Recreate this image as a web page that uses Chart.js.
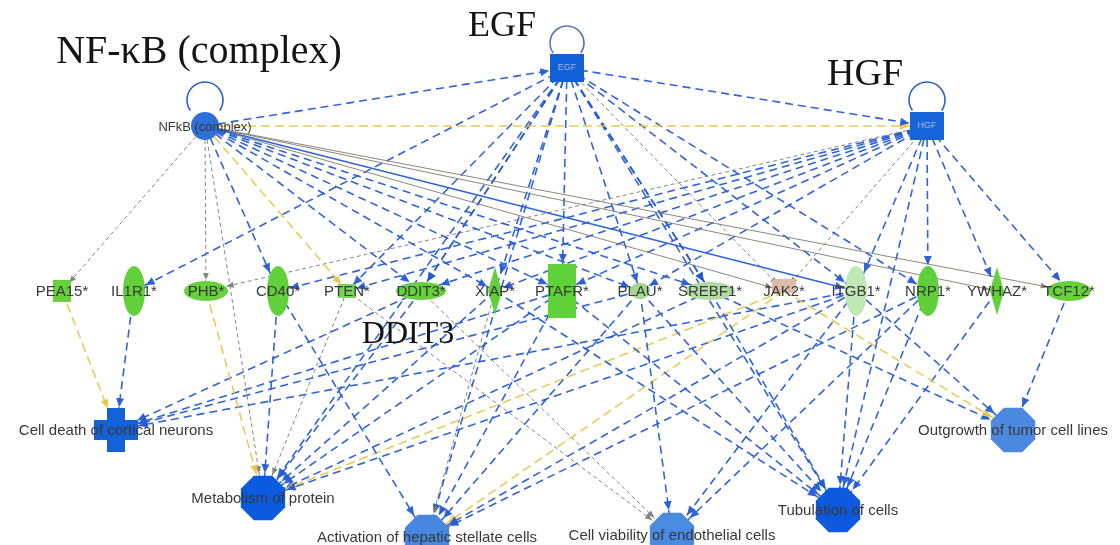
<!DOCTYPE html>
<html>
<head>
  <title>IPA network with Chart.js</title>
  <script src="https://cdn.jsdelivr.net/npm/chart.js"></script>
  <style>
    body { margin: 0; background: #fff; }
  </style>
</head>
<body>
  <canvas id="myChart" width="1120" height="545"></canvas>
  <script>
    // nodes of the network (x/y in picture units, y goes down)
    var nodeNames = ['NFkB (complex)', 'EGF', 'HGF',
      'PEA15*', 'IL1R1*', 'PHB*', 'CD40*', 'PTEN*', 'DDIT3*', 'XIAP*', 'PTAFR*', 'PLAU*',
      'SREBF1*', 'JAK2*', 'ITGB1*', 'NRP1*', 'YWHAZ*', 'TCF12*',
      'Cell death of cortical neurons', 'Metabolism of protein', 'Activation of hepatic stellate cells',
      'Cell viability of endothelial cells', 'Tubulation of cells', 'Outgrowth of tumor cell lines'];
    var nodeX = [205, 567, 927,
      62, 134, 206, 278, 347, 421, 495, 562, 640, 710, 784, 856, 928, 997, 1069,
      116, 263, 427, 672, 838, 1013];
    var nodeY = [126, 68, 126,
      291, 291, 291, 291, 291, 291, 291, 291, 291, 291, 291, 291, 291, 291, 291,
      430, 498, 537, 535, 510, 430];

    // edges: source index, target index, kind
    var edgeFrom = [0, 0, 1, 0, 0, 0, 0, 0, 0, 0, 0, 0, 0, 0, 0, 0, 0,
      1, 1, 1, 1, 1, 1, 1, 1, 1, 1, 1, 1, 1, 1, 1,
      2, 2, 2, 2, 2, 2, 2, 2, 2, 2, 2, 2, 2,
      3, 4, 5, 6, 6, 7, 7, 8, 8, 8, 9, 9, 9, 10, 10, 10, 10, 11, 11, 11, 11,
      12, 12, 12, 13, 13, 13, 14, 14, 14, 14, 14, 14, 15, 15, 15, 16, 17];
    var edgeTo = [1, 2, 2, 3, 5, 6, 7, 19, 8, 9, 10, 11, 12, 14, 13, 16, 17,
      4, 7, 8, 8, 9, 10, 11, 12, 12, 13, 14, 15, 19, 22, 20,
      5, 6, 7, 8, 9, 10, 11, 13, 14, 15, 16, 22, 17,
      18, 18, 19, 19, 20, 19, 21, 18, 19, 21, 20, 19, 22, 18, 19, 22, 20, 18, 20, 21, 22,
      19, 23, 22, 19, 20, 23, 18, 19, 20, 21, 22, 23, 22, 21, 20, 22, 23];
    var edgeKind = ['b', 'y', 'b', 'g', 'g', 'b', 'y', 'g', 'b', 'b', 'b', 'b', 'b', 's', 'k', 'k', 'k',
      'b', 'b', 'b', 'b', 'b', 'b', 'b', 'b', 'b', 'g', 'b', 'b', 'b', 'b', 'b',
      'g', 'b', 'b', 'b', 'b', 'b', 'b', 'g', 'b', 'b', 'b', 'b', 'b',
      'y', 'b', 'y', 'b', 'b', 'g', 'g', 'b', 'b', 'g', 'g', 'b', 'b', 'b', 'b', 'b', 'b', 'b', 'b', 'b', 'b',
      'b', 'b', 'b', 'y', 'y', 'y', 'b', 'b', 'b', 'b', 'b', 'b', 'b', 'b', 'b', 'b', 'b'];

    var selfLoops = [0, 1, 2];

    // large annotation labels
    var bigLabels = ['NF-\u03baB (complex)', 'EGF', 'HGF', 'DDIT3'];
    var bigLabelX = [199, 502, 865, 408];
    var bigLabelY = [63, 36, 85, 343];
    var bigLabelSize = [40, 36, 38, 32];

    // ---- styles ----
    var nodeShape = ['circle', 'square', 'square',
      'smallbox', 'vellipse', 'hellipse', 'vellipse', 'tinybox', 'wellipse', 'diamond', 'tallrect', 'smallellipse',
      'wellipse', 'kinase', 'vellipse', 'vellipse', 'diamond', 'hellipse',
      'cross', 'octagon', 'octagon', 'octagon', 'octagon', 'octagon'];
    var nodeFill = ['#2f6fd8', '#1160d8', '#1565d8',
      '#66d13a', '#62d03a', '#66d13a', '#62d03a', '#7ad45a', '#66d13a', '#62d03a', '#5fd23a', '#a3d88e',
      '#b2dba4', '#dbbcaa', '#bfe8b4', '#5fd03a', '#62d03a', '#66d13a',
      '#1462d8', '#0b5be0', '#4787e0', '#4a8be2', '#0d5ade', '#4a89df'];
    var shapeSize = {
      circle: [14, 14], square: [17, 14], smallbox: [9, 11], vellipse: [11, 25], hellipse: [22, 10],
      tinybox: [9, 7], wellipse: [25, 9], diamond: [7, 24], tallrect: [14, 27], smallellipse: [10, 8],
      kinase: [12, 7], cross: [22, 22], octagon: [24, 24]
    };
    var lineStyles = {
      b: { color: 'rgba(38, 92, 214, 0.95)', width: 1.6, dash: [8, 5] },
      y: { color: 'rgba(232, 196, 70, 0.9)', width: 1.6, dash: [9, 5] },
      g: { color: 'rgba(120, 120, 120, 0.9)', width: 1, dash: [4, 3] },
      s: { color: 'rgba(38, 92, 214, 0.95)', width: 1.6, dash: [] },
      k: { color: 'rgba(130, 120, 110, 0.9)', width: 1, dash: [] }
    };

    function reach(i, dx, dy) {
      var s = shapeSize[nodeShape[i]];
      var len = Math.sqrt(dx * dx + dy * dy) || 1;
      var c = dx / len, sn = dy / len;
      return 1 / Math.sqrt((c / s[0]) * (c / s[0]) + (sn / s[1]) * (sn / s[1])) + 1;
    }

    function drawShape(ctx, kind, x, y, fill) {
      var s = shapeSize[kind];
      ctx.fillStyle = fill;
      ctx.beginPath();
      if (kind === 'circle' || kind.indexOf('ellipse') >= 0) {
        ctx.ellipse(x, y, s[0], s[1], 0, 0, Math.PI * 2);
      } else if (kind === 'diamond') {
        ctx.moveTo(x, y - s[1]); ctx.lineTo(x + s[0], y); ctx.lineTo(x, y + s[1]); ctx.lineTo(x - s[0], y);
      } else if (kind === 'cross') {
        var t = 9;
        ctx.rect(x - t, y - s[1], 2 * t, 2 * s[1]);
        ctx.rect(x - s[0], y - 10, 2 * s[0], 20);
      } else if (kind === 'octagon') {
        for (var k = 0; k < 8; k++) {
          var a = Math.PI / 8 + k * Math.PI / 4;
          var px = x + s[0] * Math.cos(a), py = y + s[1] * Math.sin(a);
          if (k === 0) ctx.moveTo(px, py); else ctx.lineTo(px, py);
        }
      } else if (kind === 'kinase') {
        ctx.roundRect(x - s[0], y - s[1] - 5, 2 * s[0], 2 * s[1], 3);
      } else {
        ctx.rect(x - s[0], y - s[1], 2 * s[0], 2 * s[1]);
      }
      ctx.closePath();
      ctx.fill();
    }

    var networkPlugin = {
      id: 'network',
      afterDatasetsDraw: function(chart) {
        var ctx = chart.ctx;
        var xs = chart.scales.x, ys = chart.scales.y;
        ctx.save();

        // arrow heads
        edgeFrom.forEach(function(f, i) {
          var t = edgeTo[i];
          var x0 = xs.getPixelForValue(nodeX[f]), y0 = ys.getPixelForValue(nodeY[f]);
          var x1 = xs.getPixelForValue(nodeX[t]), y1 = ys.getPixelForValue(nodeY[t]);
          var dx = x1 - x0, dy = y1 - y0, len = Math.sqrt(dx * dx + dy * dy);
          var ux = dx / len, uy = dy / len;
          var r = reach(t, -dx, -dy);
          var tx = x1 - ux * r, ty = y1 - uy * r;
          var st = lineStyles[edgeKind[i]];
          var al = st.width > 1.2 ? 9 : 7, aw = st.width > 1.2 ? 4 : 3;
          ctx.fillStyle = st.color;
          ctx.beginPath();
          ctx.moveTo(tx, ty);
          ctx.lineTo(tx - ux * al - uy * aw, ty - uy * al + ux * aw);
          ctx.lineTo(tx - ux * al + uy * aw, ty - uy * al - ux * aw);
          ctx.closePath();
          ctx.fill();
        });

        // self loops on the upstream regulators
        selfLoops.forEach(function(i) {
          var x = xs.getPixelForValue(nodeX[i]), y = ys.getPixelForValue(nodeY[i]);
          var rr = i === 1 ? 17 : 18;
          ctx.strokeStyle = i === 1 ? '#5a78b8' : '#2a62d2';
          ctx.lineWidth = 1.6;
          ctx.setLineDash([]);
          ctx.beginPath();
          ctx.arc(x, y - shapeSize[nodeShape[i]][1] - rr + 6, rr, Math.PI * 0.8, Math.PI * 2.2);
          ctx.stroke();
        });

        // nodes
        nodeNames.forEach(function(n, i) {
          drawShape(ctx, nodeShape[i], xs.getPixelForValue(nodeX[i]), ys.getPixelForValue(nodeY[i]), nodeFill[i]);
        });

        // node labels
        ctx.textAlign = 'center';
        ctx.textBaseline = 'middle';
        nodeNames.forEach(function(n, i) {
          var x = xs.getPixelForValue(nodeX[i]), y = ys.getPixelForValue(nodeY[i]);
          if (i === 1 || i === 2) {
            ctx.font = '9px "Liberation Sans", Arial';
            ctx.fillStyle = '#a8bde6';
            ctx.fillText(n, x, y);
            return;
          }
          ctx.font = (i === 0 ? '13px' : '15px') + ' "Liberation Sans", Arial';
          ctx.fillStyle = '#383838';
          ctx.fillText(n, x, y + 1);
        });

        // big labels
        ctx.textAlign = 'left';
        ctx.textBaseline = 'alphabetic';
        ctx.fillStyle = '#141414';
        bigLabels.forEach(function(txt, i) {
          ctx.font = bigLabelSize[i] + 'px "Liberation Serif", "Times New Roman", serif';
          var w = ctx.measureText(txt).width;
          ctx.fillText(txt, xs.getPixelForValue(bigLabelX[i]) - w / 2, ys.getPixelForValue(bigLabelY[i]));
        });
        ctx.restore();
      }
    };

    var datasets = edgeFrom.map(function(f, i) {
      var st = lineStyles[edgeKind[i]];
      var t = edgeTo[i];
      return {
        data: [{ x: nodeX[f], y: nodeY[f] }, { x: nodeX[t], y: nodeY[t] }],
        showLine: true,
        borderColor: st.color,
        borderWidth: st.width,
        borderDash: st.dash,
        pointRadius: 0,
        fill: false
      };
    });

    var ctx = document.getElementById('myChart').getContext('2d');
    var myChart = new Chart(ctx, {
      type: 'scatter',
      data: { datasets: datasets },
      options: {
        responsive: false,
        animation: false,
        layout: { padding: 0 },
        scales: {
          x: { type: 'linear', min: 0, max: 1120, display: false },
          y: { type: 'linear', min: 0, max: 545, reverse: true, display: false }
        },
        plugins: {
          legend: { display: false },
          tooltip: { enabled: false }
        }
      },
      plugins: [networkPlugin]
    });
  </script>
</body>
</html>
